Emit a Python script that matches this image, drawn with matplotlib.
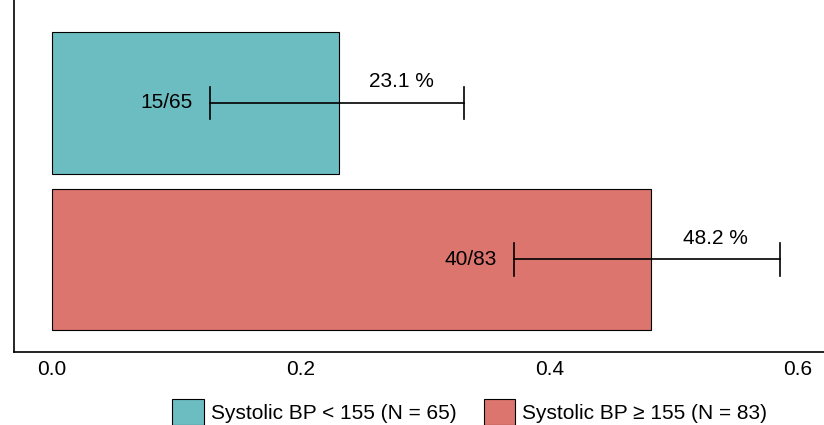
import matplotlib.pyplot as plt
from matplotlib.patches import Patch

plt.rcParams["font.family"] = ["Liberation Sans", "DejaVu Sans"]

groups = ["Systolic BP < 155 (N = 65)", "Systolic BP \u2265 155 (N = 83)"]
proportions = [15 / 65, 40 / 83]
ci_low = [0.127, 0.372]
ci_high = [0.331, 0.586]
counts = ["15/65", "40/83"]
pct_labels = ["23.1 %", "48.2 %"]
colors = ["#6CBDC1", "#DC756D"]

fig = plt.figure(figsize=(8.24, 4.25), dpi=100)
ax = fig.add_axes([0.017, 0.172, 0.983, 0.828])

ypos = [1, 0]
for y, p, lo, hi, c, cnt, pl in zip(ypos, proportions, ci_low, ci_high, colors, counts, pct_labels):
    ax.barh(y, p, height=0.905, color=c, edgecolor="black", linewidth=0.8)
    ax.plot([lo, hi], [y, y], color="black", lw=1.2)
    for x in (lo, hi):
        ax.plot([x, x], [y - 0.105, y + 0.105], color="black", lw=1.2)
    ax.text(lo - 0.014, y, cnt, ha="right", va="center", fontsize=15)
    ax.text((p + hi) / 2, y + 0.135, pl, ha="center", va="center", fontsize=15)

ax.set_xlim(-0.0306, 0.621)
ax.set_ylim(-0.591, 1.658)
ax.set_xticks([0.0, 0.2, 0.4, 0.6])
ax.set_xticklabels(["0.0", "0.2", "0.4", "0.6"], fontsize=15)
ax.tick_params(axis="x", length=0, pad=6)
ax.set_yticks([])
ax.spines["top"].set_visible(False)
ax.spines["right"].set_visible(False)
ax.spines["left"].set_linewidth(1.2)
ax.spines["bottom"].set_linewidth(1.2)

handles = [Patch(facecolor=c, edgecolor="black", linewidth=0.8) for c in colors]
fig.legend(handles, groups, loc="lower center", bbox_to_anchor=(0.57, -0.045), ncol=2,
           frameon=False, fontsize=15, handlelength=1.5, handleheight=1.6,
           handletextpad=0.35, columnspacing=1.3)

fig.savefig("out.png", dpi=100)
